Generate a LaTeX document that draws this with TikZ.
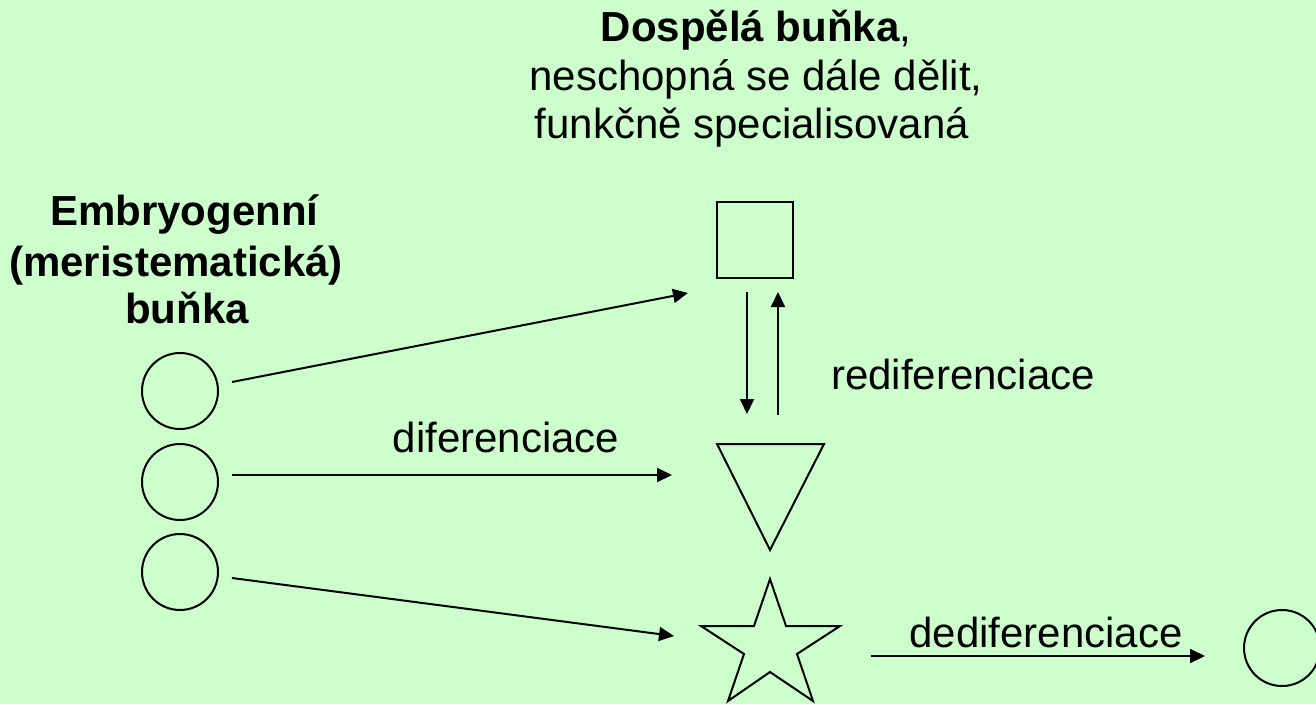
\documentclass[tikz,border=0pt]{standalone}
\usepackage{fontspec}
\setmainfont{Liberation Sans}
\usetikzlibrary{arrows.meta}
\definecolor{bg}{HTML}{CCFFCC}
\begin{document}
\begin{tikzpicture}[x=1pt,y=-1pt,
  txt/.style={anchor=base,inner sep=0pt,font=\fontsize{42}{48}\selectfont},
  cell/.style={draw,line width=2pt,circle,minimum size=76pt,inner sep=0pt},
  shp/.style={draw,line width=2pt,line join=miter},
  arr/.style={line width=2pt,-{Triangle[length=15pt,width=14pt]}}]
\fill[bg] (0,0) rectangle (1316,704);
\useasboundingbox (0,0) rectangle (1316,704);
% title text
\node[txt] (t1) at (756,41) {\textbf{Dospělá buňka},};
\node[txt] (t2) at (756,90) {neschopná se dále dělit,};
\node[txt] (t3) at (752,138) {funkčně specialisovaná};
\node[txt] (e1) at (185,225) {\textbf{Embryogenní}};
\node[txt] (e2) at (176,276) {\textbf{(meristematická)}};
\node[txt] (e3) at (187,323) {\textbf{buňka}};
\node[txt] (ldif) at (506,452) {diferenciace};
\node[txt] (lredif) at (963,389) {rediferenciace};
\node[txt] (ldedif) at (1046,647) {dediferenciace};
% cells
\node[cell] (c1) at (180,391) {};
\node[cell] (c2) at (180,482) {};
\node[cell] (c3) at (180,572) {};
\node[cell] (c4) at (1282,648) {};
\node[draw,line width=2pt,minimum size=76pt,inner sep=0pt] (sq) at (755,240) {};
% triangle
\draw[shp] (717,444) -- (824,444) -- (770,550) -- cycle;
% star
\draw[shp] (770,579) -- (786,626) -- (840,626) -- (797,654) -- (813,701)
  -- (770,672) -- (728,701) -- (744,654) -- (701,626) -- (754,626) -- cycle;
% connector endpoints
\coordinate (a1s) at (232,382);
\coordinate (a1e) at (688,293);
\coordinate (a2s) at (232,475);
\coordinate (a2e) at (672,475);
\coordinate (a3s) at (232,578);
\coordinate (a3e) at (674,636);
\coordinate (dns) at (747,292);
\coordinate (dne) at (747,414);
\coordinate (ups) at (778,415);
\coordinate (upe) at (778,292);
\coordinate (des) at (871,656);
\coordinate (dee) at (1205,656);
\draw[arr] (a1s) -- (a1e);
\draw[arr] (a2s) -- (a2e);
\draw[arr] (a3s) -- (a3e);
\draw[arr] (dns) -- (dne);
\draw[arr] (ups) -- (upe);
\draw[arr] (des) -- (dee);
\end{tikzpicture}
\end{document}
